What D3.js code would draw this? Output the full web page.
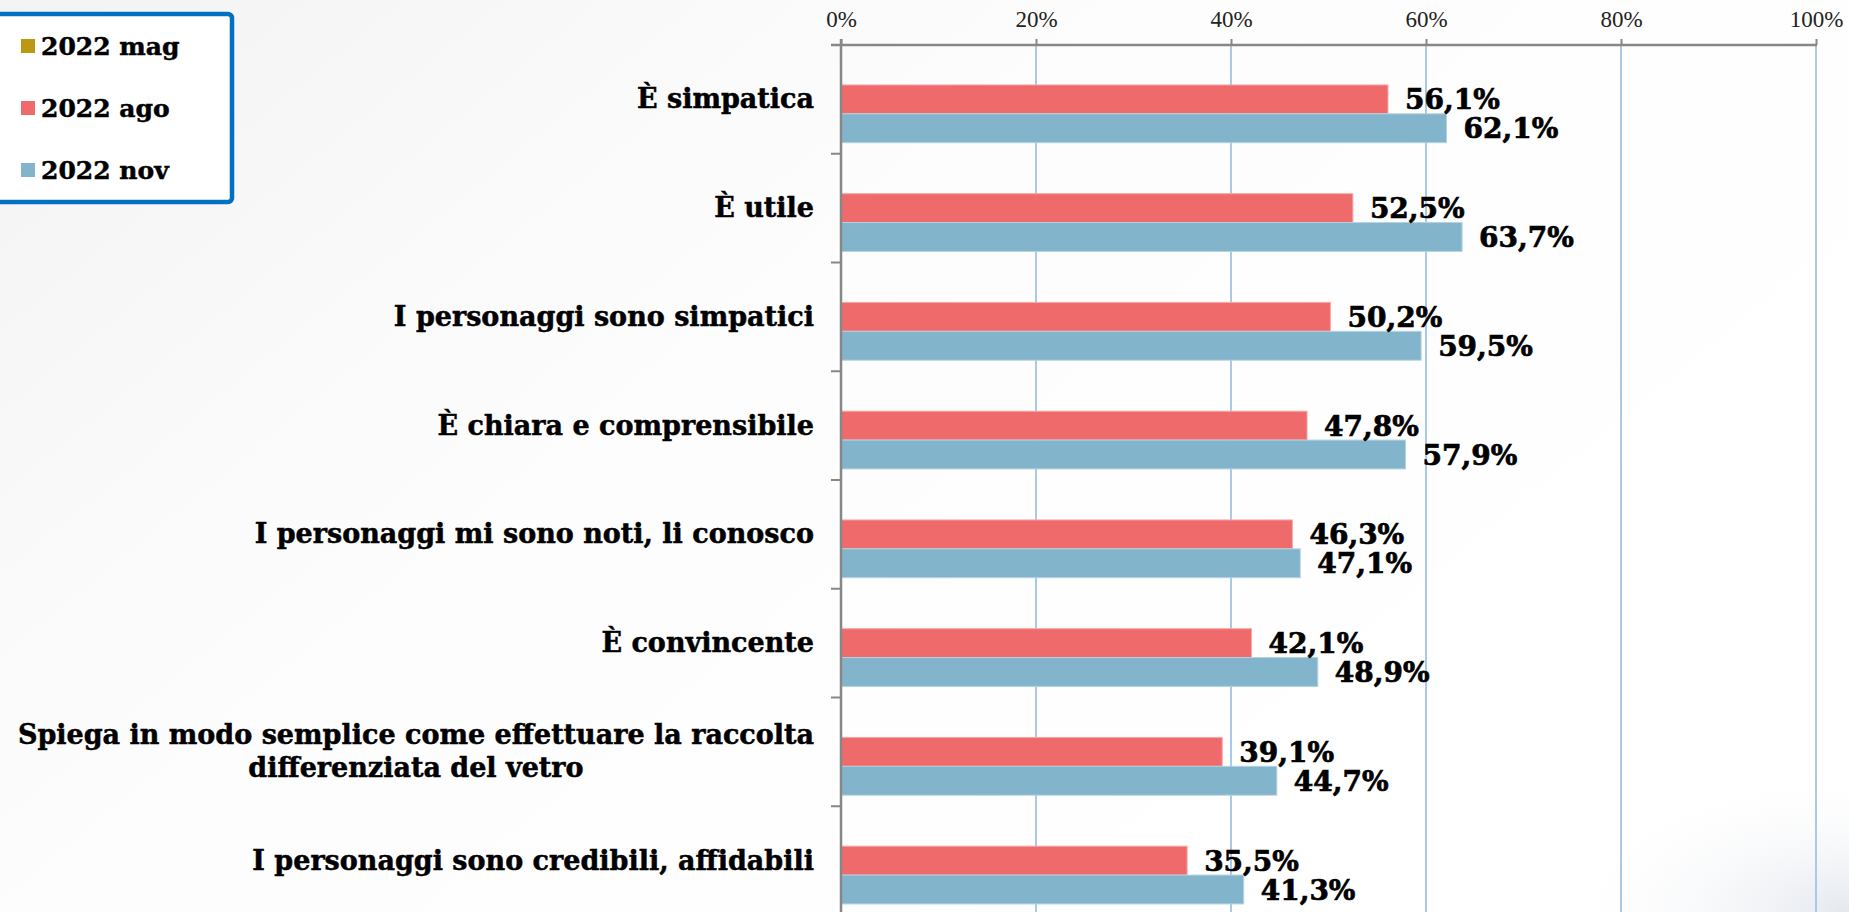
<!DOCTYPE html>
<html>
<head>
<meta charset="utf-8">
<script src="https://cdn.jsdelivr.net/npm/d3@7"></script>
<style>
  html, body { margin: 0; padding: 0; overflow: hidden; background: #fff; }
  svg { display: block; }
</style>
</head>
<body>
<script>
// ---- data ----
const categories = [
  "È simpatica",
  "È utile",
  "I personaggi sono simpatici",
  "È chiara e comprensibile",
  "I personaggi mi sono noti, li conosco",
  "È convincente",
  "Spiega in modo semplice come effettuare la raccolta differenziata del vetro",
  "I personaggi sono credibili, affidabili"
];
const seriesNames = ["2022 mag", "2022 ago", "2022 nov"];
const valuesMag = [null, null, null, null, null, null, null, null];
const valuesAgo = [56.1, 52.5, 50.2, 47.8, 46.3, 42.1, 39.1, 35.5];
const valuesNov = [62.1, 63.7, 59.5, 57.9, 47.1, 48.9, 44.7, 41.3];
const tickValues = [0, 20, 40, 60, 80, 100];

// ---- layout ----
const W = 1849, H = 912;
const plot = { left: 841, right: 1816, top: 45, bottom: 915 };
const colors = { "2022 mag": "#BC9813", "2022 ago": "#EF6A6A", "2022 nov": "#82B4CB" };
const strokes = { "2022 mag": "#d9c26a", "2022 ago": "#f6a9a9", "2022 nov": "#b4d2e0" };
const serifBold = "'DejaVu Serif', serif";

const itLocale = d3.formatLocale({ decimal: ",", thousands: ".", grouping: [3], currency: ["", "€"] });
const fmt = itLocale.format(".1f");

const series = [
  { name: "2022 mag", values: valuesMag },
  { name: "2022 ago", values: valuesAgo },
  { name: "2022 nov", values: valuesNov }
];

const svg = d3.select("body").append("svg").attr("width", W).attr("height", H);

// ---- background ----
const defs = svg.append("defs");
const lg = defs.append("linearGradient").attr("id", "bgLin")
  .attr("x1", "0").attr("y1", "0").attr("x2", "1").attr("y2", "0.6");
lg.append("stop").attr("offset", "0").attr("stop-color", "#f3f3f3");
lg.append("stop").attr("offset", "0.45").attr("stop-color", "#fdfdfd");
lg.append("stop").attr("offset", "1").attr("stop-color", "#ffffff");
const rg = defs.append("radialGradient").attr("id", "bgRad")
  .attr("cx", "1").attr("cy", "1").attr("r", "0.16");
rg.append("stop").attr("offset", "0").attr("stop-color", "#e4e8ee").attr("stop-opacity", 1);
rg.append("stop").attr("offset", "1").attr("stop-color", "#ffffff").attr("stop-opacity", 0);
svg.append("rect").attr("width", W).attr("height", H).attr("fill", "url(#bgLin)");
svg.append("rect").attr("width", W).attr("height", H).attr("fill", "url(#bgRad)");

// ---- scales ----
const x = d3.scaleLinear().domain([0, 100]).range([plot.left, plot.right]);
const y = d3.scaleBand().domain(categories).range([plot.top, plot.bottom]).padding(0);
const ySub = d3.scaleBand().domain(seriesNames).range([0, y.bandwidth()])
  .paddingInner(0).paddingOuter(0.383);

// ---- gridlines ----
svg.append("g")
  .selectAll("line")
  .data(tickValues.filter(d => d > 0))
  .join("line")
  .attr("x1", d => x(d)).attr("x2", d => x(d))
  .attr("y1", plot.top).attr("y2", H)
  .attr("stroke", "#a9c9ea").attr("stroke-width", 2);

// ---- bars ----
const barG = svg.append("g");
series.forEach(s => {
  barG.append("g")
    .selectAll("rect")
    .data(categories.map((c, i) => ({ c, v: s.values[i] })).filter(d => d.v != null))
    .join("rect")
    .attr("x", x(0))
    .attr("y", d => y(d.c) + ySub(s.name))
    .attr("width", d => x(d.v) - x(0))
    .attr("height", ySub.bandwidth())
    .attr("fill", colors[s.name])
    .attr("stroke", strokes[s.name])
    .attr("stroke-width", 1);
});

// ---- value labels ----
const labG = svg.append("g");
series.forEach(s => {
  labG.append("g")
    .selectAll("text")
    .data(categories.map((c, i) => ({ c, v: s.values[i] })).filter(d => d.v != null))
    .join("text")
    .attr("x", d => x(d.v) + 17)
    .attr("y", d => y(d.c) + ySub(s.name) + ySub.bandwidth() / 2 + 10)
    .attr("font-family", serifBold)
    .attr("font-weight", "bold")
    .attr("font-size", 28)
    .attr("fill", "#000")
    .attr("stroke", "#000").attr("stroke-width", 0.7)
    .text(d => fmt(d.v) + "%");
});

// ---- top axis ----
const xAxis = d3.axisTop(x).tickValues(tickValues).tickFormat(d => d + "%")
  .tickSizeInner(6).tickSizeOuter(0).tickPadding(12);
const gx = svg.append("g").attr("transform", `translate(0,${plot.top})`).call(xAxis);
gx.select(".domain").remove();
gx.append("line").attr("x1", plot.left - 10).attr("x2", plot.right + 1)
  .attr("y1", 0).attr("y2", 0).attr("stroke", "#878787").attr("stroke-width", 2.5);
gx.selectAll(".tick line").attr("stroke", "#878787").attr("stroke-width", 2);
gx.selectAll(".tick text")
  .attr("font-family", "'Liberation Serif', serif")
  .attr("font-size", 23)
  .attr("fill", "#222");

// ---- left axis (category) ----
const gy = svg.append("g");
gy.append("line").attr("x1", plot.left).attr("x2", plot.left)
  .attr("y1", plot.top - 6).attr("y2", H)
  .attr("stroke", "#878787").attr("stroke-width", 2.5);
gy.selectAll("line.cat")
  .data(categories.slice(1))
  .join("line").attr("class", "cat")
  .attr("x1", plot.left - 10).attr("x2", plot.left)
  .attr("y1", d => y(d)).attr("y2", d => y(d))
  .attr("stroke", "#878787").attr("stroke-width", 2);

// category labels, wrapped when too wide
const labelRight = 814, maxLabelWidth = 805, lineH = 33;
const catG = svg.append("g")
  .attr("font-family", serifBold).attr("font-weight", "bold")
  .attr("font-size", 27).attr("fill", "#000")
  .attr("stroke", "#000").attr("stroke-width", 0.5);
categories.forEach(c => {
  const t = catG.append("text");
  const words = c.split(" ");
  const lines = [];
  let cur = [];
  words.forEach(w => {
    cur.push(w);
    t.text(cur.join(" "));
    if (t.node().getComputedTextLength() > maxLabelWidth && cur.length > 1) {
      cur.pop();
      lines.push(cur.join(" "));
      cur = [w];
    }
  });
  lines.push(cur.join(" "));
  t.text(null);
  const cy = y(c) + y.bandwidth() / 2;
  const y0 = cy - (lines.length - 1) * lineH / 2 + 9;
  if (lines.length === 1) {
    t.attr("text-anchor", "end").attr("x", labelRight).attr("y", y0).text(lines[0]);
  } else {
    // measure widest line, center all lines on it
    const widths = lines.map(l => { t.text(l); return t.node().getComputedTextLength(); });
    t.text(null);
    const cx = labelRight - d3.max(widths) / 2;
    t.attr("text-anchor", "middle");
    lines.forEach((l, i) => {
      t.append("tspan").attr("x", cx).attr("y", y0 + i * lineH).text(l);
    });
  }
});

// ---- legend ----
const leg = svg.append("g");
leg.append("rect").attr("x", -12).attr("y", 14).attr("width", 244).attr("height", 188)
  .attr("rx", 4).attr("fill", "#fff").attr("stroke", "#0070C0").attr("stroke-width", 4.5);
const legY = d3.scalePoint().domain(seriesNames).range([46, 170]);
const li = leg.selectAll("g.item").data(seriesNames).join("g").attr("class", "item")
  .attr("transform", d => `translate(0,${legY(d)})`);
li.append("rect").attr("x", 21).attr("y", -7).attr("width", 14).attr("height", 14)
  .attr("fill", d => colors[d]);
li.append("text").attr("x", 41).attr("y", 9)
  .attr("font-family", serifBold).attr("font-weight", "bold").attr("font-size", 25)
  .attr("fill", "#000").attr("stroke", "#000").attr("stroke-width", 0.5)
  .text(d => d);
</script>
</body>
</html>
